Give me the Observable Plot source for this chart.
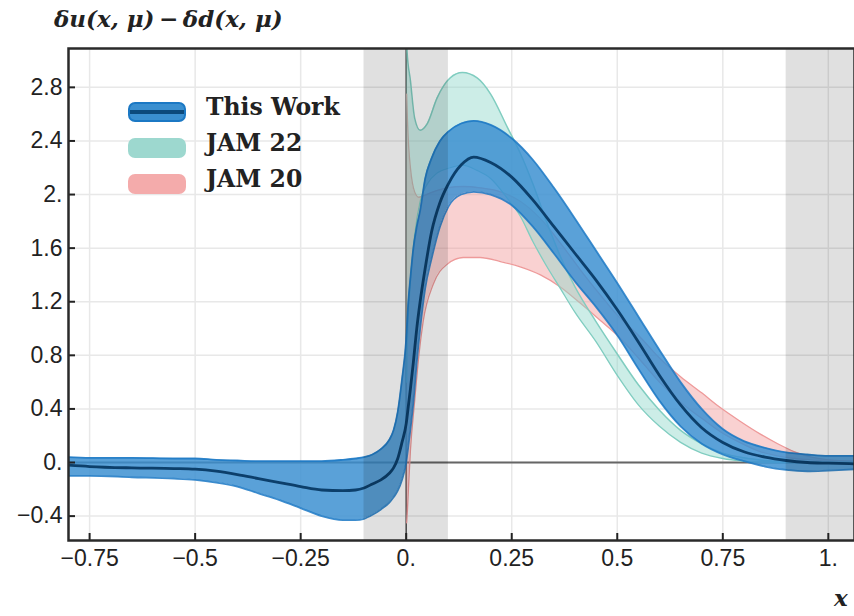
<!DOCTYPE html>
<html>
<head>
<meta charset="utf-8">
<script src="https://cdn.jsdelivr.net/npm/d3@7"></script>
<script src="https://cdn.jsdelivr.net/npm/@observablehq/plot@0.6"></script>
<style>
  html, body { margin: 0; padding: 0; background: #fff; overflow: hidden; }
  #wrap { position: relative; width: 854px; height: 616px; overflow: hidden; }
  .math { font-family: "DejaVu Serif", serif; font-weight: bold; font-style: italic; font-size: 23px; color: #222; position: absolute; white-space: nowrap; }
  .leg { position: absolute; font-family: "DejaVu Serif", serif; font-weight: bold; font-size: 23.5px; color: #222; white-space: nowrap; }
  .sw { position: absolute; border-radius: 7px; }
</style>
</head>
<body>
<div id="wrap"></div>
<script>
// ---------- data ----------
const xTicks = [-0.75, -0.5, -0.25, 0, 0.25, 0.5, 0.75, 1];
const yTicks = [-0.4, 0, 0.4, 0.8, 1.2, 1.6, 2, 2.4, 2.8];
const shadeStart = [-0.1, 0.9];
const shadeEnd = [0.1, 1.1];

// This Work
const thisX   = [-0.80,-0.75,-0.65,-0.55,-0.50,-0.45,-0.40,-0.35,-0.30,-0.25,-0.20,-0.15,-0.12,-0.10,-0.08,-0.06,-0.04,-0.03,-0.02,-0.01,0.00,0.005,0.01,0.017,0.025,0.033,0.045,0.06,0.08,0.10,0.13,0.16,0.20,0.25,0.30,0.35,0.40,0.45,0.50,0.55,0.60,0.65,0.70,0.75,0.80,0.85,0.90,0.95,1.00,1.07];
const thisLo  = [-0.10,-0.10,-0.11,-0.12,-0.13,-0.15,-0.18,-0.23,-0.28,-0.34,-0.40,-0.43,-0.43,-0.42,-0.39,-0.35,-0.30,-0.26,-0.21,-0.13,0.00,0.12,0.25,0.45,0.75,1.00,1.30,1.52,1.76,1.91,2.00,2.02,2.00,1.92,1.76,1.56,1.35,1.16,0.95,0.70,0.46,0.27,0.14,0.06,0.01,-0.03,-0.055,-0.065,-0.06,-0.05];
const thisMid = [-0.02,-0.03,-0.04,-0.045,-0.05,-0.065,-0.09,-0.12,-0.15,-0.18,-0.205,-0.21,-0.205,-0.19,-0.16,-0.13,-0.08,-0.04,0.03,0.15,0.29,0.42,0.55,0.75,1.00,1.20,1.45,1.72,1.94,2.08,2.22,2.28,2.24,2.13,1.96,1.76,1.56,1.36,1.14,0.90,0.65,0.43,0.26,0.15,0.08,0.04,0.015,0.00,-0.005,-0.01];
const thisHi  = [0.04,0.035,0.035,0.03,0.03,0.02,0.015,0.01,0.01,0.01,0.01,0.02,0.03,0.04,0.06,0.10,0.17,0.24,0.38,0.62,0.92,1.20,1.38,1.60,1.76,1.88,2.12,2.27,2.40,2.47,2.53,2.55,2.52,2.42,2.26,2.05,1.82,1.58,1.34,1.09,0.84,0.60,0.40,0.25,0.16,0.11,0.075,0.06,0.05,0.05];

// JAM 22
const jam22X  = [0.001,0.002,0.01,0.02,0.033,0.05,0.073,0.104,0.133,0.168,0.20,0.24,0.27,0.30,0.33,0.365,0.40,0.45,0.50,0.55,0.60,0.65,0.70,0.75,0.80,0.85,0.90,0.95,1.07];
const jam22Lo = [0.60,0.80,1.35,1.70,1.95,2.08,2.16,2.20,2.22,2.18,2.12,1.97,1.84,1.65,1.48,1.30,1.12,0.90,0.65,0.43,0.27,0.15,0.07,0.03,0.01,0.00,0.00,0.00,0.00];
const jam22Hi = [3.40,3.07,2.85,2.57,2.48,2.53,2.72,2.87,2.91,2.87,2.75,2.50,2.31,2.08,1.82,1.54,1.31,1.05,0.81,0.58,0.39,0.24,0.14,0.07,0.035,0.015,0.005,0.00,0.00];

// JAM 20
const jam20X  = [0.001,0.003,0.006,0.01,0.02,0.03,0.04,0.064,0.097,0.135,0.175,0.223,0.27,0.318,0.365,0.412,0.46,0.50,0.55,0.60,0.65,0.70,0.744,0.79,0.84,0.88,0.92,0.96,1.00,1.07];
const jam20Lo = [-0.45,-0.35,-0.15,0.09,0.46,0.80,1.05,1.33,1.48,1.53,1.53,1.50,1.46,1.40,1.31,1.19,1.06,0.95,0.78,0.60,0.45,0.33,0.23,0.15,0.08,0.05,0.03,0.02,0.01,0.00];
const jam20Hi = [2.75,2.55,2.35,2.20,2.02,1.98,1.99,2.02,2.05,2.06,2.05,2.02,1.95,1.82,1.64,1.44,1.25,1.10,0.95,0.78,0.64,0.52,0.41,0.31,0.21,0.14,0.08,0.04,0.02,0.01];

// ---------- tables for Plot ----------
const thisData = thisX.map((x, i) => ({x, lo: thisLo[i], mid: thisMid[i], hi: thisHi[i]}));
const jam22Data = jam22X.map((x, i) => ({x, lo: jam22Lo[i], hi: jam22Hi[i]}));
const jam20Data = jam20X.map((x, i) => ({x, lo: jam20Lo[i], hi: jam20Hi[i]}));
const shades = shadeStart.map((s, i) => ({x1: s, x2: shadeEnd[i]}));

const W = 854, H = 616, mT = 48, mR = 0, mB = 76, mL = 68;
const xDom = [-0.8, 1.062];
const yDom = [-0.582, 3.09];

const fmt = d => {
  const s = Number.isInteger(d) ? d + "." : String(+d.toFixed(2));
  return s.replace("-", "\u2212");
};

const blueFill = "#3a8fd0", blueEdge = "#1b78c4", blueMid = "#0c3f6b";
const tealFill = "#8fd6ca", tealEdge = "#80cdc0";
const pinkFill = "#f08c8c", pinkEdge = "#ee9a9a";

const chart = Plot.plot({
  width: W, height: H,
  marginTop: mT, marginRight: mR, marginBottom: mB, marginLeft: mL,
  x: {domain: xDom},
  y: {domain: yDom},
  style: {fontFamily: "'Liberation Sans', Arial, sans-serif", fontSize: "23px", color: "#222", background: "#fff"},
  marks: [
    Plot.gridX(xTicks, {stroke: "#e8e8e8", strokeOpacity: 1, strokeWidth: 1.5}),
    Plot.gridY(yTicks, {stroke: "#e8e8e8", strokeOpacity: 1, strokeWidth: 1.5}),
    Plot.ruleX([0], {stroke: "#555", strokeWidth: 1.5}),
    Plot.ruleY([0], {stroke: "#666", strokeWidth: 2}),
    // JAM 20
    Plot.areaY(jam20Data, {x: "x", y1: "lo", y2: "hi", fill: pinkFill, fillOpacity: 0.4, curve: "monotone-x", clip: true}),
    Plot.line(jam20Data, {x: "x", y: "lo", stroke: pinkEdge, strokeWidth: 1.3, curve: "monotone-x", clip: true}),
    Plot.line(jam20Data, {x: "x", y: "hi", stroke: pinkEdge, strokeWidth: 1.3, curve: "monotone-x", clip: true}),
    // JAM 22
    Plot.areaY(jam22Data, {x: "x", y1: "lo", y2: "hi", fill: tealFill, fillOpacity: 0.45, curve: "monotone-x", clip: true}),
    Plot.line(jam22Data, {x: "x", y: "lo", stroke: tealEdge, strokeWidth: 1.3, curve: "monotone-x", clip: true}),
    Plot.line(jam22Data, {x: "x", y: "hi", stroke: tealEdge, strokeWidth: 1.5, curve: "monotone-x", clip: true}),
    // This Work
    Plot.areaY(thisData, {x: "x", y1: "lo", y2: "hi", fill: blueFill, fillOpacity: 0.84, curve: "monotone-x", clip: true}),
    Plot.line(thisData, {x: "x", y: "lo", stroke: blueEdge, strokeWidth: 1.8, strokeOpacity: 0.85, curve: "monotone-x", clip: true}),
    Plot.line(thisData, {x: "x", y: "hi", stroke: blueEdge, strokeWidth: 1.8, strokeOpacity: 0.85, curve: "monotone-x", clip: true}),
    Plot.line(thisData, {x: "x", y: "mid", stroke: blueMid, strokeWidth: 2.8, curve: "monotone-x", clip: true}),
    // shaded regions
    Plot.rect(shades, {x1: "x1", x2: "x2", fill: "#000", fillOpacity: 0.12, clip: true}),
    // axes
    Plot.axisX({ticks: xTicks, tickFormat: fmt, tickSize: 0, tickPadding: 9, label: null}),
    Plot.axisY({ticks: yTicks, tickFormat: fmt, tickSize: 0, tickPadding: 6, label: null}),
    Plot.tickX(xTicks, {x: d => d, stroke: "#222", strokeWidth: 2, insetTop: H - mT - mB - 7}),
    Plot.tickY(yTicks, {y: d => d, stroke: "#222", strokeWidth: 2, insetRight: W - mL - mR - 7}),
    Plot.frame({stroke: "#2a2a2a", strokeWidth: 2.5})
  ]
});

const wrap = document.getElementById("wrap");
wrap.appendChild(chart);

// title and axis label
const title = document.createElement("div");
title.className = "math";
title.style.left = "54px"; title.style.top = "5px";
title.textContent = "\u03b4u(x, \u03bc)\u2009\u2212\u2009\u03b4d(x, \u03bc)";
wrap.appendChild(title);

const xl = document.createElement("div");
xl.className = "math";
xl.style.left = "834px"; xl.style.top = "584px";
xl.textContent = "x";
wrap.appendChild(xl);

// legend
const legendNames = ["This Work", "JAM 22", "JAM 20"];
const legendColors = ["#3a8fd0", "#9dd8cf", "#f4abab"];
const legendTops = [102, 138, 174];
legendNames.forEach((name, i) => {
  const sw = document.createElement("div");
  sw.className = "sw";
  sw.style.left = "128px"; sw.style.top = legendTops[i] + "px";
  sw.style.width = "58px"; sw.style.height = "20px";
  sw.style.background = legendColors[i];
  if (i === 0) {
    sw.style.boxSizing = "border-box";
    sw.style.border = "2px solid #1b78c4";
    const ln = document.createElement("div");
    ln.style.position = "absolute"; ln.style.left = "0"; ln.style.right = "0";
    ln.style.top = "6px"; ln.style.height = "4px"; ln.style.background = "#0c4a7c";
    sw.appendChild(ln);
  }
  wrap.appendChild(sw);
  const t = document.createElement("div");
  t.className = "leg";
  t.style.left = "206px"; t.style.top = (legendTops[i] - 9) + "px";
  t.textContent = name;
  wrap.appendChild(t);
});
</script>
</body>
</html>
